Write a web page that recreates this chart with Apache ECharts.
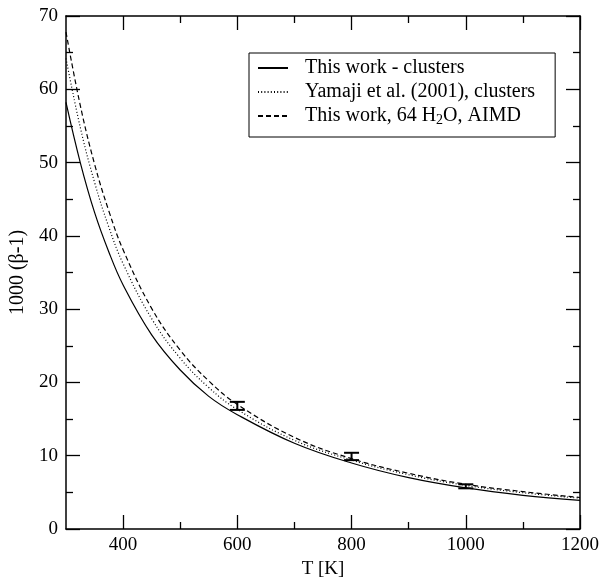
<!DOCTYPE html>
<html>
<head>
<meta charset="utf-8">
<script src="https://cdn.jsdelivr.net/npm/echarts@6/dist/echarts.min.js"></script>
<style>
html,body{margin:0;padding:0;background:#fff;}
#chart{width:605px;height:577px;}
</style>
</head>
<body>
<div id="chart"></div>
<script>
// ---- data ----
var temps = [300, 325, 350, 375, 400, 450, 500, 550, 600, 700, 800, 900, 1000, 1100, 1200];
var clustersThisWork = [58.2, 50.0, 43.2, 37.8, 33.3, 26.5, 21.7, 18.1, 15.6, 11.7, 9.0, 7.0, 5.6, 4.6, 3.9];
var clustersYamaji   = [64.2, 54.8, 47.3, 41.2, 36.2, 28.7, 23.3, 19.3, 16.3, 12.1, 9.4, 7.4, 5.95, 4.95, 4.2];
var aimd64           = [67.8, 57.8, 49.8, 43.4, 38.1, 30.1, 24.4, 20.2, 17.0, 12.5, 9.6, 7.6, 6.1, 5.1, 4.3];
var errT    = [600, 800, 1000];
var errLow  = [16.25, 9.4, 5.55];
var errHigh = [17.35, 10.4, 6.1];
var seriesNames = ['This work - clusters', 'Yamaji et al. (2001), clusters', 'This work, 64 H2O, AIMD'];
var xMajorTicks = [400, 600, 800, 1000, 1200];
var xMinorTicks = [500, 700, 900, 1100];

function pairs(xs, ys) { return xs.map(function (x, i) { return [x, ys[i]]; }); }
var errData = errT.map(function (t, i) { return [t, errLow[i], errHigh[i]]; });

var FONT = 'Liberation Serif';
var black = '#000';

function xAxisDef(pos, ticks, len, showLine, showLabels, name) {
  return {
    type: 'value', position: pos, min: 300, max: 1200,
    name: name || '', nameLocation: 'middle', nameGap: 27,
    nameTextStyle: { fontFamily: FONT, fontSize: 19, color: black },
    axisLine: { show: showLine, onZero: false, lineStyle: { color: black, width: 1.5 } },
    axisTick: { show: true, inside: true, length: len, customValues: ticks, lineStyle: { color: black, width: 1.3 } },
    axisLabel: { show: showLabels, customValues: ticks, margin: 7, fontFamily: FONT, fontSize: 19, color: black,
      formatter: function (v) { return String(v); } },
    splitLine: { show: false }
  };
}
function yAxisDef(pos, showLabels, name) {
  return {
    type: 'value', position: pos, min: 0, max: 70, interval: 10,
    name: name || '', nameLocation: 'middle', nameGap: 38,
    nameTextStyle: { fontFamily: FONT, fontSize: 20, color: black },
    axisLine: { show: true, onZero: false, lineStyle: { color: black, width: 1.5 } },
    axisTick: { show: true, inside: true, length: 14, lineStyle: { color: black, width: 1.3 } },
    minorTick: { show: true, splitNumber: 2, length: 7, lineStyle: { color: black, width: 1.3 } },
    axisLabel: { show: showLabels, margin: 8, fontFamily: FONT, fontSize: 19, color: black },
    splitLine: { show: false }
  };
}

var chart = echarts.init(document.getElementById('chart'), null, { renderer: 'canvas' });
chart.setOption({
  animation: false,
  backgroundColor: '#fff',
  grid: { left: 66, right: 25, top: 16, bottom: 48, containLabel: false, outerBoundsMode: 'none' },
  xAxis: [
    xAxisDef('bottom', xMajorTicks, 14, true, true, 'T [K]'),
    xAxisDef('bottom', xMinorTicks, 7, false, false),
    xAxisDef('top', xMajorTicks, 14, true, false),
    xAxisDef('top', xMinorTicks, 7, false, false)
  ],
  yAxis: [
    yAxisDef('left', true, '1000 (\u03B2-1)'),
    yAxisDef('right', false)
  ],
  legend: {
    data: seriesNames,
    orient: 'vertical',
    left: 249, top: 53,
    padding: [4, 20, 10, 8],
    itemGap: 2,
    itemWidth: 30, itemHeight: 14,
    borderColor: black, borderWidth: 1,
    backgroundColor: '#fff',
    itemStyle: { opacity: 0 },
    textStyle: {
      fontFamily: FONT, fontSize: 20, color: black, lineHeight: 22,
      padding: [0, 0, 0, 12],
      rich: { sub: { fontFamily: FONT, fontSize: 14, lineHeight: 8, verticalAlign: 'bottom', color: black } }
    },
    formatter: function (name) { return name.replace('H2O', 'H{sub|2}O'); }
  },
  series: [
    { name: seriesNames[0], type: 'line', data: pairs(temps, clustersThisWork), smooth: 0.4,
      symbol: 'none', showSymbol: false, lineStyle: { color: black, width: 1.2, type: 'solid' }, itemStyle: { color: black } },
    { name: seriesNames[1], type: 'line', data: pairs(temps, clustersYamaji), smooth: 0.4,
      symbol: 'none', showSymbol: false, lineStyle: { color: black, width: 1.2, type: [1, 2.2] }, itemStyle: { color: black } },
    { name: seriesNames[2], type: 'line', data: pairs(temps, aimd64), smooth: 0.4,
      symbol: 'none', showSymbol: false, lineStyle: { color: black, width: 1.2, type: [5, 3] }, itemStyle: { color: black } },
    { name: 'errors', type: 'custom', data: errData, z: 5,
      renderItem: function (params, api) {
        var x = api.value(0);
        var lo = api.coord([x, api.value(1)]);
        var hi = api.coord([x, api.value(2)]);
        var hw = 7.5;
        var st = { stroke: black, lineWidth: 2 };
        return { type: 'group', children: [
          { type: 'line', shape: { x1: lo[0], y1: lo[1], x2: hi[0], y2: hi[1] }, style: st },
          { type: 'line', shape: { x1: lo[0] - hw, y1: lo[1], x2: lo[0] + hw, y2: lo[1] }, style: st },
          { type: 'line', shape: { x1: hi[0] - hw, y1: hi[1], x2: hi[0] + hw, y2: hi[1] }, style: st }
        ] };
      }
    }
  ]
});
</script>
</body>
</html>
